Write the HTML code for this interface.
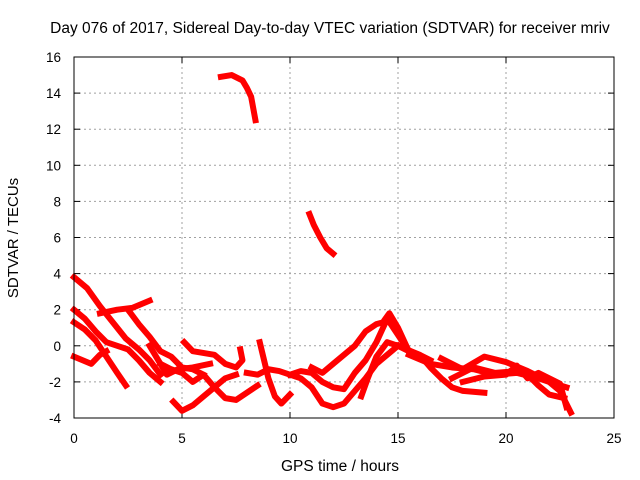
<!DOCTYPE html>
<html><head><meta charset="utf-8"><style>
body{margin:0;background:#fff}
svg{display:block;font-family:"Liberation Sans",sans-serif}
</style></head><body>
<svg id="chart" width="640" height="480">
<text x="330" y="33" text-anchor="middle" font-size="15.5">Day 076 of 2017, Sidereal Day-to-day VTEC variation (SDTVAR) for receiver mriv</text>
<text x="340" y="471" text-anchor="middle" font-size="15.5">GPS time / hours</text>
<text transform="translate(18,238) rotate(-90)" text-anchor="middle" font-size="15">SDTVAR / TECUs</text>
<g id="grid"></g><g id="ticks"></g><g id="series"></g>
<rect x="74" y="57" width="540" height="361" fill="none" stroke="#000" stroke-width="1"/>
</svg>
<script>
const xTicks=[0,5,10,15,20,25];
const yTicks=[-4,-2,0,2,4,6,8,10,12,14,16];
const trackA=[[0,3.8],[0.6,3.2],[1.2,2.2],[1.8,1.3],[2.4,0.4],[3,-0.2],[3.5,-0.8],[4,-1.6]];
const trackB=[[0,2],[0.5,1.5],[1,0.8],[1.5,0.2],[2,0],[2.5,-0.2],[3,-0.8],[3.5,-1.5],[4,-2]];
const trackC=[[0,1.3],[0.5,0.9],[1,0.3],[1.5,-0.6],[2,-1.5],[2.4,-2.2]];
const trackD=[[1.2,1.8],[2,2],[2.7,2.1],[3.5,2.5]];
const trackE=[[0,-0.6],[0.4,-0.8],[0.8,-1.0],[1.2,-0.5],[1.5,-0.3]];
const trackF=[[2.5,2],[3,1.2],[3.5,0.5],[4,-0.3],[4.5,-0.6],[5,-1.2],[5.5,-1.3],[6,-1.6]];
const trackG=[[3.5,0],[4,-1],[4.3,-1.6],[4.8,-1.3],[5.5,-1.2],[6.3,-1.0]];
const trackH=[[5.1,0.2],[5.5,-0.3],[6.5,-0.5],[7,-1],[7.5,-1.2],[7.8,-0.8],[7.7,-0.2]];
const trackI=[[4.6,-3.1],[5,-3.6],[5.5,-3.3],[6,-2.8],[6.5,-2.3],[7,-1.8],[7.5,-1.6]];
const trackJ=[[4,-1],[4.5,-1.3],[5,-1.5],[5.5,-2],[6,-1.6],[6.5,-2.3],[7,-2.9],[7.5,-3.0],[8,-2.6],[8.5,-2.2]];
const trackK=[[8.6,0.2],[8.8,-0.8],[9,-1.8],[9.3,-2.8],[9.6,-3.2],[10,-2.7]];
const trackL=[[8,-1.5],[8.5,-1.6],[9,-1.3],[9.5,-1.4],[10,-1.6],[10.5,-1.8],[11,-2.3],[11.5,-3.2],[12,-3.4],[12.5,-3.2],[13,-2.5],[13.5,-1.8],[14,-1.0],[14.5,-0.5],[15,0]];
const trackM=[[10,-1.6],[10.5,-1.4],[11,-1.5],[11.5,-2],[12,-2.3],[12.5,-2.4],[13,-1.5],[13.5,-0.8],[14,0.2],[14.5,1.5],[15,0.6],[15.5,-0.3]];
const trackN=[[11,-1.2],[11.5,-1.5],[12,-1],[12.5,-0.5],[13,0],[13.5,0.8],[14,1.2],[14.3,1.3],[14.6,1.8],[15,1],[15.5,-0.3],[16,-0.6]];
const trackO=[[13.3,-2.8],[13.6,-1.8],[14,-0.6],[14.5,0.2],[15,0],[15.5,-0.3],[16,-0.5],[16.5,-0.8]];
const trackP=[[15,0],[16,-0.5],[16.5,-1.2],[17,-1.8],[17.5,-2.3],[18,-2.5],[19,-2.6]];
const trackQ=[[15.5,-0.5],[16.5,-1],[17.5,-1.2],[18.5,-1.3],[19.5,-1.6],[20.5,-1.5],[21.5,-1.8],[22,-2],[22.5,-2.5],[23,-3.7]];
const trackR=[[17,-0.7],[18,-1.3],[19,-0.6],[20,-0.9],[21,-1.4],[22,-2],[22.8,-2.3]];
const trackS=[[17.5,-1.8],[18.5,-1.2],[19.5,-1.5],[20.5,-1.4],[21,-1.6],[21.5,-2.2],[22,-2.7],[22.7,-2.9]];
const trackT=[[18,-2],[19,-1.7],[20,-1.6],[20.5,-1.1],[21,-1.8],[21.5,-1.5],[22.5,-2.1],[22.8,-3.4]];
const trackU=[[6.8,14.9],[7.3,15],[7.8,14.7],[8,14.3],[8.2,13.8],[8.4,12.5]];
const trackV=[[10.9,7.3],[11.1,6.7],[11.4,6],[11.7,5.4],[12,5.1]];
const tracks=[trackA,trackB,trackC,trackD,trackE,trackF,trackG,trackH,trackI,trackJ,trackK,trackL,trackM,trackN,trackO,trackP,trackQ,trackR,trackS,trackT,trackU,trackV];

const X0=74,X1=614,Y0=418,Y1=57;
function xs(h){return X0+(h-0)/(25-0)*(X1-X0);}
function ys(v){return Y0-(v-(-4))/(16-(-4))*(Y0-Y1);}
const NS="http://www.w3.org/2000/svg";
const grid=document.getElementById('grid'),ticks=document.getElementById('ticks'),series=document.getElementById('series');
function mk(tag,attrs,parent){const e=document.createElementNS(NS,tag);for(const k in attrs)e.setAttribute(k,attrs[k]);parent.appendChild(e);return e;}
xTicks.forEach(t=>{
  const x=xs(t);
  if(t>0&&t<25){const g=mk('line',{x1:x,x2:x,y1:Y1,y2:Y0,stroke:'#a0a0a0','stroke-dasharray':'2,3'},grid);
  
  }
  mk('line',{x1:x,x2:x,y1:Y0,y2:Y0-6,stroke:'#000'},ticks);
  mk('line',{x1:x,x2:x,y1:Y1,y2:Y1+6,stroke:'#000'},ticks);
  const l=mk('text',{x:x,y:443,'text-anchor':'middle','font-size':13.5},ticks);
  l.textContent=t;
  
  
});
yTicks.forEach(t=>{
  const y=ys(t);
  if(t>-4&&t<16){const g=mk('line',{x1:X0,x2:X1,y1:y,y2:y,stroke:'#a0a0a0','stroke-dasharray':'2,3'},grid);
  
  }
  mk('line',{x1:X0,x2:X0+6,y1:y,y2:y,stroke:'#000'},ticks);
  mk('line',{x1:X1,x2:X1-6,y1:y,y2:y,stroke:'#000'},ticks);
  const l=mk('text',{x:61,y:y+5,'text-anchor':'end','font-size':13.5},ticks);
  l.textContent=t;
  
  
});
tracks.forEach(tr=>{
  const p=mk('polyline',{points:tr.map(d=>xs(d[0])+','+ys(d[1])).join(' '),fill:'none',stroke:'#ff0000','stroke-width':6,'stroke-linejoin':'round','stroke-linecap':'square'},series);
  
  
});
</script>
</body></html>
